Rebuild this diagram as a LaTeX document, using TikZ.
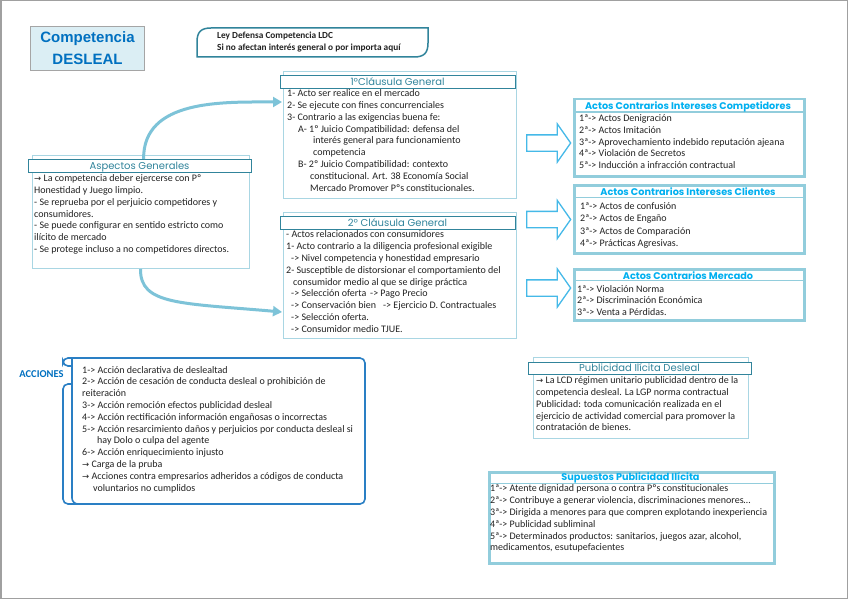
\documentclass[tikz,border=0pt]{standalone}
\usepackage{fontspec}
\setmainfont{Carlito}
\newfontfamily\titlefont{Poppins}
\newfontfamily\symfont{DejaVu Sans}
\newfontfamily\headfont{Liberation Sans}
\usetikzlibrary{shapes.arrows,arrows.meta,calc}
\newcommand{\rarr}{{\symfont\fontsize{8.5}{8}\selectfont →}}
\definecolor{cTeal}{HTML}{31849B}
\definecolor{cFrame}{HTML}{A9D6E3}
\definecolor{cActos}{HTML}{92CDDC}
\definecolor{cActT}{HTML}{00B0F0}
\definecolor{cArrow}{HTML}{45B9E8}
\definecolor{cCurve}{HTML}{7DC3D8}
\definecolor{cBlue}{HTML}{0070C0}
\definecolor{cAcc}{HTML}{2A7FC4}
\definecolor{cFill}{HTML}{DBEEF4}
\definecolor{cGray}{HTML}{A5A5A5}
\definecolor{cBorder}{HTML}{A0A0A0}
\definecolor{cText}{HTML}{222222}
\tikzset{
  outerbox/.style={draw=cFrame, line width=1pt, inner sep=0pt, anchor=north west},
  barbox/.style={draw=cTeal, line width=1.2pt, fill=white, inner sep=0pt, anchor=north west},
  bartitle/.style={font=\titlefont\fontsize{10}{11}\selectfont, text=cTeal, anchor=base, inner sep=0pt},
  actbox/.style={draw=cActos, line width=2.5pt, inner sep=0pt, anchor=north west},
  actsep/.style={draw=cActos, line width=1.5pt},
  acttitle/.style={font=\titlefont\bfseries\fontsize{9.7}{11}\selectfont, text=cActT, anchor=base, inner sep=0pt},
  body/.style={anchor=north west, inner sep=0pt, align=left, font=\fontsize{10}{11.8}\selectfont, text=cText},
  blockarrow/.style={single arrow, draw=cArrow, line width=1.3pt, fill=white, minimum height=44pt,
    inner sep=7.5pt, single arrow head extend=11pt, single arrow tip angle=110, single arrow head indent=0pt, anchor=tail},
  curvearrow/.style={draw=cCurve, line width=3pt, -{Triangle[length=9pt,width=10pt]}},
}
\begin{document}
\begin{tikzpicture}[x=1pt,y=-1pt]
\path[use as bounding box] (0,0) rectangle (848,599);
\fill[white] (0,0) rectangle (848,599);
\draw[cBorder, line width=1.5pt] (0.75,0.75) rectangle (847.25,598.25);

% Title box
\node[draw=cGray, fill=cFill, line width=1pt, minimum width=114pt, minimum height=44pt, anchor=north west,
  inner sep=0pt, align=center, font=\headfont\bfseries\fontsize{15}{22}\selectfont, text=cBlue] (comp) at (30,26) {Competencia\\DESLEAL};

% Ley box
\draw[cTeal, line width=1.5pt] (197,57) -- (197,42) .. controls (197,32) and (201,28) .. (211,28) -- (428,28)
  -- (428,43) .. controls (428,53) and (424,57) .. (414,57) -- cycle;
\node[body, font=\bfseries\fontsize{9.3}{12.5}\selectfont, text=cText] (ley) at (217,29.5)
  {\strut Ley Defensa Competencia LDC\\Si no afectan interés general o por importa aquí};

% Aspectos Generales
\node[outerbox, minimum width=217pt, minimum height=113pt] (aspbox) at (32,155) {};
\node[barbox, minimum width=223pt, minimum height=13pt] (aspbar) at (28,159) {};
\node[bartitle] (asptitle) at (139.5,169.2) {Aspectos Generales};
\node[body] (asptext) at (34,173.2) {\strut\rarr{} La competencia deber ejercerse con Pº\\
Honestidad y Juego limpio.\\
- Se reprueba por el perjuicio competidores y\\
consumidores.\\
- Se puede configurar en sentido estricto como\\
ilícito de mercado\\
- Se protege incluso a no competidores directos.};

% 1a Clausula
\node[outerbox, minimum width=233pt, minimum height=127pt] (cl1box) at (283,71) {};
\node[barbox, minimum width=235pt, minimum height=13pt] (cl1bar) at (280,75) {};
\node[bartitle] (cl1title) at (397.5,85.2) {1ºCláusula General};
\node[body] (cl1text) at (287,88.2) {\strut 1- Acto ser realice en el mercado\\
2- Se ejecute con fines concurrenciales\\
3- Contrario a las exigencias buena fe:\\
\hspace*{11pt}A- 1º Juicio Compatibilidad: defensa del\\
\hspace*{26pt}interés general para funcionamiento\\
\hspace*{26pt}competencia\\
\hspace*{11pt}B- 2º Juicio Compatibilidad: contexto\\
\hspace*{23pt}constitucional. Art. 38 Economía Social\\
\hspace*{23pt}Mercado Promover Pºs constitucionales.};

% 2a Clausula
\node[outerbox, minimum width=233pt, minimum height=126pt] (cl2box) at (283,212) {};
\node[barbox, minimum width=235pt, minimum height=13pt] (cl2bar) at (280,216) {};
\node[bartitle] (cl2title) at (397.5,226.2) {2º Cláusula General};
\node[body] (cl2text) at (286,229.5) {\strut - Actos relacionados con consumidores\\
1- Acto contrario a la diligencia profesional exigible\\
\hspace*{5pt}-> Nivel competencia y honestidad empresario\\
2- Susceptible de distorsionar el comportamiento del\\
\hspace*{7pt}consumidor medio al que se dirige práctica\\
\hspace*{5pt}\makebox[79pt][l]{-> Selección oferta}-> Pago Precio\\
\hspace*{5pt}\makebox[92pt][l]{-> Conservación bien}-> Ejercicio D. Contractuales\\
\hspace*{5pt}-> Selección oferta.\\
\hspace*{5pt}-> Consumidor medio TJUE.};

% curved connectors
\coordinate (c1in) at (282,102);
\coordinate (c2in) at (282,312);
\draw[curvearrow] ($(aspbar.north)+(3.5,0)$) .. controls (143,99) and (223,102) .. (c1in);
\draw[curvearrow] ($(aspbox.south)+(-0.5,0)$) .. controls (140,305) and (180,303) .. (c2in);

% block arrows
\node[blockarrow] (ba1) at (526,143) {};
\node[blockarrow] (ba2) at (526,219.5) {};
\node[blockarrow] (ba3) at (526,288) {};

% Actos Competidores
\node[actbox, minimum width=230pt, minimum height=77pt] (acbox1) at (573,98) {};
\draw[actsep] ($(acbox1.north west)+(0,14)$) -- ($(acbox1.north east)+(0,14)$);
\node[acttitle] (actitle1) at (688,109.2) {Actos Contrarios Intereses Competidores};
\node[body] (actext1) at (579,113) {\strut 1ª-> Actos Denigración\\
2ª-> Actos Imitación\\
3ª-> Aprovechamiento indebido reputación ajeana\\
4ª-> Violación de Secretos\\
5ª-> Inducción a infracción contractual};

% Actos Clientes
\node[actbox, minimum width=230pt, minimum height=68pt] (acbox2) at (573,184) {};
\draw[actsep] ($(acbox2.north west)+(0,13.3)$) -- ($(acbox2.north east)+(0,13.3)$);
\node[acttitle] (actitle2) at (688,195.2) {Actos Contrarios Intereses Clientes};
\node[body, font=\fontsize{10}{12.4}\selectfont] (actext2) at (580,200.7) {\strut 1ª-> Actos de confusión\\
2ª-> Actos de Engaño\\
3ª-> Actos de Comparación\\
4ª-> Prácticas Agresivas.};

% Actos Mercado
\node[actbox, minimum width=230pt, minimum height=51pt] (acbox3) at (573,268) {};
\draw[actsep] ($(acbox3.north west)+(0,12.7)$) -- ($(acbox3.north east)+(0,12.7)$);
\node[acttitle] (actitle3) at (688,279.2) {Actos Contrarios Mercado};
\node[body] (actext3) at (577,283.7) {\strut 1ª-> Violación Norma\\
2ª-> Discriminación Económica\\
3ª-> Venta a Pérdidas.};

% ACCIONES
\draw[cAcc, line width=1.6pt, rounded corners=5pt] (72,384) -- (63,384) -- (63,504) -- (365,504) -- (365,358) -- (63,358) -- (63,366) -- (72,366);
\draw[cAcc, line width=1.6pt, rounded corners=6pt] (72,358) -- (72,504) -- (90,504);
\node[font=\bfseries\fontsize{10.5}{11}\selectfont, text=cBlue, inner sep=0pt] (acclabel) at (41.5,374) {ACCIONES};
\node[body] (acctext) at (82,364.7) {\strut 1-> Acción declarativa de deslealtad\\
2-> Acción de cesación de conducta desleal o prohibición de\\
reiteración\\
3-> Acción remoción efectos publicidad desleal\\
4-> Acción rectificación información engañosas o incorrectas\\
5-> Acción resarcimiento daños y perjuicios por conducta desleal si\\
\hspace*{15pt}hay Dolo o culpa del agente\\
6-> Acción enriquecimiento injusto\\
\rarr{} Carga de la pruba\\
\rarr{} Acciones contra empresarios adheridos a códigos de conducta\\
\hspace*{11pt}voluntarios no cumplidos};

% Publicidad Ilicita Desleal
\node[outerbox, minimum width=215pt, minimum height=81pt] (pubbox) at (533,357) {};
\node[barbox, minimum width=223pt, minimum height=12pt] (pubbar) at (528,362) {};
\node[bartitle] (pubtitle) at (639.5,371.6) {Publicidad Ilícita Desleal};
\node[body] (pubtext) at (536,375.2) {\strut\rarr{} La LCD régimen unitario publicidad dentro de la\\
competencia desleal. La LGP norma contractual\\
Publicidad: toda comunicación realizada en el\\
ejercicio de actividad comercial para promover la\\
contratación de bienes.};

% Supuestos Publicidad Ilicita
\node[actbox, minimum width=285pt, minimum height=91pt] (supbox) at (488,471) {};
\draw[actsep] ($(supbox.north west)+(0,12.5)$) -- ($(supbox.north east)+(0,12.5)$);
\node[acttitle] (suptitle) at (630.5,480.5) {Supuestos Publicidad Ilícita};
\node[body] (suptext) at (490,483.5) {\strut 1ª-> Atente dignidad persona o contra Pºs constitucionales\\
2ª-> Contribuye a generar violencia, discriminaciones menores…\\
3ª-> Dirigida a menores para que compren explotando inexperiencia\\
4ª-> Publicidad subliminal\\
5ª-> Determinados productos: sanitarios, juegos azar, alcohol,\\
medicamentos, esutupefacientes};
\end{tikzpicture}
\end{document}
